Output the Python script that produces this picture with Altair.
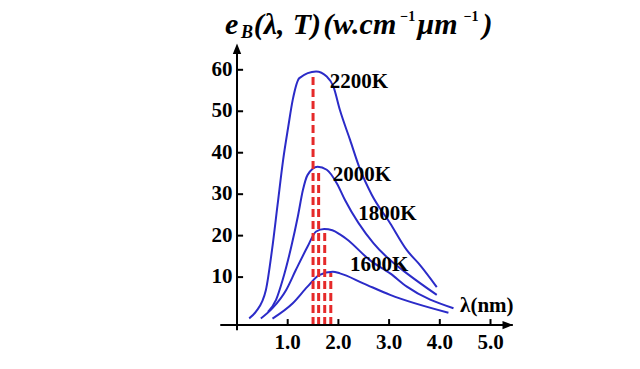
import altair as alt
import pandas as pd

# ---- curve readings (lambda on the chart's x axis, e_B values) ----
x_2200 = [0.24, 0.37, 0.57, 0.69, 0.80, 0.91, 1.01, 1.10, 1.23, 1.56, 1.77, 1.90, 2.03, 2.23, 2.43, 2.66, 3.02, 3.35, 3.61, 3.94]
y_2200 = [0.05, 1.6, 6.9, 16.5, 27.4, 38.3, 46.2, 52.8, 58.0, 59.6, 58.4, 56.0, 50.3, 43.1, 35.9, 29.8, 23.0, 16.5, 12.9, 7.6]

x_2000 = [0.61, 0.77, 0.90, 1.07, 1.20, 1.30, 1.39, 1.59, 1.77, 1.97, 2.13, 2.69, 3.02, 3.35, 3.94]
y_2000 = [1.6, 4.5, 9.3, 17.3, 24.6, 31.0, 34.6, 36.6, 35.9, 32.6, 28.6, 18.2, 14.1, 10.9, 5.7]

x_1800 = [0.47, 0.70, 0.97, 1.16, 1.39, 1.56, 1.72, 1.88, 2.03, 2.16, 2.62, 3.02, 3.35, 4.27]
y_1800 = [0.0, 2.5, 6.9, 11.7, 17.3, 21.0, 21.6, 21.3, 20.3, 19.2, 14.1, 10.9, 7.7, 2.5]

x_1600 = [0.70, 1.10, 1.39, 1.62, 1.89, 2.03, 2.49, 3.02, 4.17]
y_1600 = [0.0, 3.7, 7.7, 10.5, 11.3, 10.9, 8.5, 5.7, 1.4]

series_names = ["2200K", "2000K", "1800K", "1600K"]

# peak markers (red dashed)
peak_x = [1.50, 1.61, 1.73, 1.85]
peak_y = [59.0, 36.0, 21.3, 11.0]

# curve labels
label_x = [1.83, 1.89, 2.39, 2.23]
label_y = [57.1, 34.6, 25.3, 13.0]

# axis ticks
x_ticks = [1.0, 2.0, 3.0, 4.0, 5.0]
x_tick_labels = ["1.0", "2.0", "3.0", "4.0", "5.0"]
y_ticks = [10, 20, 30, 40, 50, 60]
y_tick_labels = ["10", "20", "30", "40", "50", "60"]

AXIS_Y = -1.57   # where the horizontal axis sits
X_END = 5.44
Y_END = 63.9

rows = []
for name, xs, ys in zip(series_names, [x_2200, x_2000, x_1800, x_1600], [y_2200, y_2000, y_1800, y_1600]):
    for a, b in zip(xs, ys):
        rows.append({"T": name, "lam": a, "e": b})
df_curves = pd.DataFrame(rows)

XS = alt.Scale(domain=[0, 5.7], nice=False, zero=False)
YS = alt.Scale(domain=[-3, 65.5], nice=False, zero=False)

def X(f):
    return alt.X(f, type="quantitative", scale=XS, axis=None)

def Y(f):
    return alt.Y(f, type="quantitative", scale=YS, axis=None)

SERIF = "Liberation Serif"
BLUE = "#2b2bc8"
RED = "#e52a2a"

curves = alt.Chart(df_curves).mark_line(color=BLUE, strokeWidth=2, interpolate="monotone").encode(
    x=X("lam"), y=Y("e"), detail="T:N"
)

df_peaks = pd.DataFrame({"x": peak_x, "y": peak_y, "y0": [AXIS_Y] * len(peak_x)})
peaks = alt.Chart(df_peaks).mark_rule(color=RED, strokeWidth=3, strokeDash=[8, 4]).encode(
    x=X("x"), y=Y("y0"), y2="y"
)

df_axes = pd.DataFrame({"x": [-0.33, 0.0], "x2": [X_END, 0.0], "y": [AXIS_Y, -2.8], "y2": [AXIS_Y, Y_END]})
axes = alt.Chart(df_axes).mark_rule(color="black", strokeWidth=2).encode(
    x=X("x"), x2="x2", y=Y("y"), y2="y2"
)

df_xt = pd.DataFrame({"x": x_ticks, "y": [AXIS_Y] * 5, "y2": [AXIS_Y + 1.45] * 5, "lab": x_tick_labels, "ly": [-5.8] * 5})
xt = alt.Chart(df_xt).mark_rule(color="black", strokeWidth=2).encode(x=X("x"), y=Y("y"), y2="y2")
xtl = alt.Chart(df_xt).mark_text(font=SERIF, fontSize=21, fontWeight="bold", baseline="middle", align="center").encode(
    x=X("x"), y=Y("ly"), text="lab:N"
)

df_yt = pd.DataFrame({"x": [0.0] * 6, "x2": [0.12] * 6, "y": y_ticks, "lab": y_tick_labels, "lx": [-0.09] * 6})
yt = alt.Chart(df_yt).mark_rule(color="black", strokeWidth=2).encode(x=X("x"), x2="x2", y=Y("y"))
ytl = alt.Chart(df_yt).mark_text(font=SERIF, fontSize=21, fontWeight="bold", baseline="middle", align="right").encode(
    x=X("lx"), y=Y("y"), text="lab:N"
)

arrow_r = alt.Chart(pd.DataFrame({"x": [X_END - 0.1], "y": [AXIS_Y]})).mark_point(
    shape="M-1,-0.8L1,0L-1,0.8Z", filled=True, color="black", size=110, opacity=1
).encode(x=X("x"), y=Y("y"))
arrow_u = alt.Chart(pd.DataFrame({"x": [0.0], "y": [Y_END + 1.2]})).mark_point(
    shape="M-0.8,1L0,-1L0.8,1Z", filled=True, color="black", size=110, opacity=1
).encode(x=X("x"), y=Y("y"))

df_lab = pd.DataFrame({"x": label_x, "y": label_y, "t": series_names})
labs = alt.Chart(df_lab).mark_text(font=SERIF, fontSize=21, fontWeight="bold", align="left", baseline="middle").encode(
    x=X("x"), y=Y("y"), text="t:N"
)

xname = alt.Chart(pd.DataFrame({"x": [4.40], "y": [3.0], "t": ["λ(nm)"]})).mark_text(
    font=SERIF, fontSize=21, fontWeight="bold", align="left", baseline="middle"
).encode(x=X("x"), y=Y("y"), text="t:N")

# title pieces: e_B(λ,T)(w.cm^-1 µm^-1)
title_text = ["e", "(λ,", "T)", "(w.cm", "µm", ")"]
title_x = [-0.237, 0.33, 1.10, 1.70, 3.55, 4.84]
title_y = [68.7] * 6
sub_text = ["B"]
sub_x = [0.079]
sub_y = [67.6]
sup_text = ["−1", "−1"]
sup_x = [3.22, 4.47]
sup_y = [71.8, 71.8]

t_main = alt.Chart(pd.DataFrame({"x": title_x, "y": title_y, "t": title_text})).mark_text(
    font=SERIF, fontSize=30, fontWeight="bold", fontStyle="italic", align="left", baseline="alphabetic"
).encode(x=X("x"), y=Y("y"), text="t:N")
t_sub = alt.Chart(pd.DataFrame({"x": sub_x, "y": sub_y, "t": sub_text})).mark_text(
    font=SERIF, fontSize=18, fontWeight="bold", fontStyle="italic", align="left", baseline="alphabetic"
).encode(x=X("x"), y=Y("y"), text="t:N")
t_sup = alt.Chart(pd.DataFrame({"x": sup_x, "y": sup_y, "t": sup_text})).mark_text(
    font=SERIF, fontSize=14, fontWeight="bold", align="left", baseline="alphabetic"
).encode(x=X("x"), y=Y("y"), text="t:N")

chart = alt.layer(
    curves, peaks, axes, xt, yt, xtl, ytl, arrow_r, arrow_u, labs, xname, t_main, t_sub, t_sup
).properties(
    width=289, height=284,
    padding={"left": 229, "top": 39, "right": 100, "bottom": 25},
    autosize="none",
    background="white",
).configure_view(stroke=None)

chart.save("out.html", embed_options={"renderer": "svg", "actions": False})
